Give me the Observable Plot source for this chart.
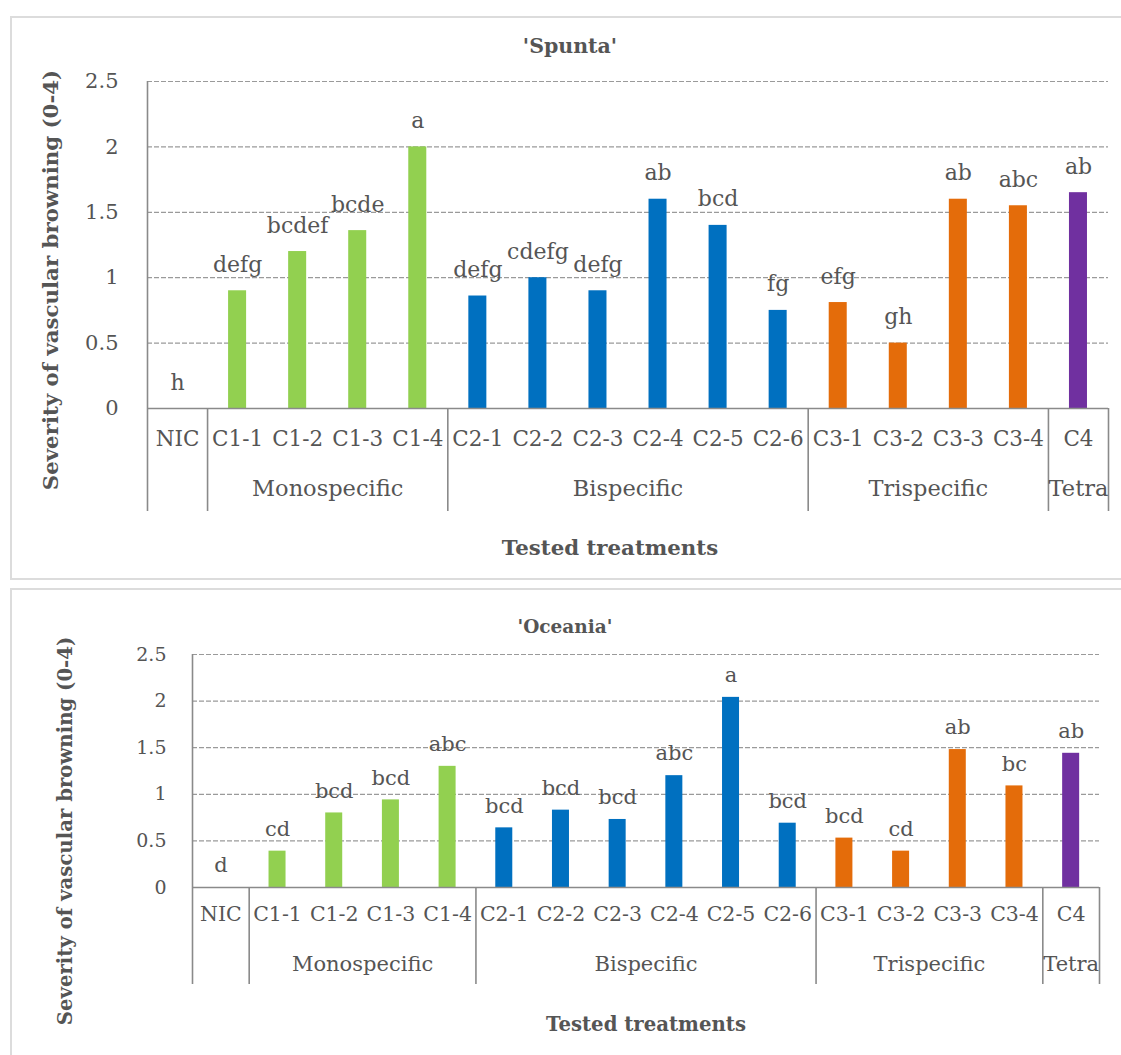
<!DOCTYPE html>
<html>
<head>
<meta charset="utf-8">
<script src="https://cdn.jsdelivr.net/npm/d3@7"></script>
<script src="https://cdn.jsdelivr.net/npm/@observablehq/plot@0.6"></script>
<style>
  html, body { margin: 0; padding: 0; background: #fff; overflow: hidden; width: 1121px; height: 1055px; }
  .frame { position: absolute; box-sizing: border-box; border: 2px solid #dcdcdc; background: #fff; }
  .t { position: absolute; transform: translate(-50%, -50%); white-space: nowrap; color: #555555;
       font-family: "DejaVu Serif", serif; font-weight: bold; line-height: 1; }
  .yt { transform: translate(-50%, -50%) rotate(-90deg); }
  .chart { position: absolute; }
</style>
</head>
<body>
<div class="frame" style="left:10px; top:16px; width:1140px; height:564px;"></div>
<div class="frame" style="left:10px; top:588px; width:1140px; height:520px;"></div>
<div id="c1" class="chart" style="left:10px; top:17px;"></div>
<div id="c2" class="chart" style="left:10px; top:589px;"></div>
<div class="t" style="left:570px; top:46px; font-size:20.5px;">'Spunta'</div>
<div class="t yt" style="left:51px; top:280px; font-size:21.3px;">Severity of vascular browning (0-4)</div>
<div class="t" style="left:610px; top:548px; font-size:21.3px;">Tested treatments</div>
<div class="t" style="left:565px; top:627px; font-size:18.5px;">'Oceania'</div>
<div class="t yt" style="left:66px; top:831px; font-size:19.7px;">Severity of vascular browning (0-4)</div>
<div class="t" style="left:646px; top:1025px; font-size:19.7px;">Tested treatments</div>
<script>
const categories = ["NIC","C1-1","C1-2","C1-3","C1-4","C2-1","C2-2","C2-3","C2-4","C2-5","C2-6","C3-1","C3-2","C3-3","C3-4","C4"];
const groupNames = ["", "Monospecific", "Bispecific", "Trispecific", "Tetra"];
const groupSizes = [1, 4, 6, 4, 1];
const groupColors = ["#92D050", "#92D050", "#0070C0", "#E46C0A", "#7030A0"];
const yTicks = [0, 0.5, 1, 1.5, 2, 2.5];

const spuntaValues = [0, 0.9, 1.2, 1.36, 2.0, 0.86, 1.0, 0.9, 1.6, 1.4, 0.75, 0.81, 0.5, 1.6, 1.55, 1.65];
const spuntaLetters = ["h","defg","bcdef","bcde","a","defg","cdefg","defg","ab","bcd","fg","efg","gh","ab","abc","ab"];

const oceaniaValues = [0, 0.39, 0.8, 0.94, 1.3, 0.64, 0.83, 0.73, 1.2, 2.04, 0.69, 0.53, 0.39, 1.48, 1.09, 1.44];
const oceaniaLetters = ["d","cd","bcd","bcd","abc","bcd","bcd","bcd","abc","a","bcd","bcd","cd","ab","bc","ab"];

// derived group info
const groups = [];
const groupIndex = [];
{
  let start = 0;
  groupSizes.forEach((n, g) => {
    groups.push({name: groupNames[g], start, end: start + n, mid: start + n / 2});
    for (let k = 0; k < n; k++) groupIndex.push(g);
    start += n;
  });
}
const innerBounds = groups.slice(1).map(g => g.start).concat([categories.length]);

function panel(values, letters, o) {
  const data = categories.map((c, i) => ({i, c, v: values[i], l: letters[i], g: groupIndex[i]}));
  const axisColor = "#8a8a8a";
  const txt = "#555555";
  return Plot.plot({
    width: o.width, height: o.height,
    marginLeft: o.ml, marginRight: o.mr, marginTop: o.mt, marginBottom: o.mb,
    x: {domain: [0, categories.length], axis: null},
    y: {domain: [0, 2.5], label: null},
    style: {background: "none", color: txt, fontFamily: "DejaVu Serif, serif", maxWidth: "none", overflow: "visible"},
    marks: [
      Plot.ruleY(yTicks.slice(1), {stroke: "#9a9a9a", strokeWidth: 1.2, strokeDasharray: "5,2"}),
      Plot.rectY(data, {x1: d => d.i + 0.35, x2: d => d.i + 0.65, y: "v", fill: d => groupColors[d.g]}),
      Plot.ruleY([0], {stroke: axisColor, strokeWidth: 1.6}),
      Plot.ruleX([0], {y1: 2.5, y2: 0, insetBottom: -o.sep, stroke: axisColor, strokeWidth: 1.6}),
      Plot.ruleX(innerBounds, {y1: 0, y2: 0, insetBottom: -o.sep, stroke: axisColor, strokeWidth: 1.6}),
      Plot.axisY(yTicks, {tickSize: 0, tickPadding: o.tickPad, fontSize: o.yfs, tickFormat: d => String(d), label: null}),
      Plot.text(data, {x: d => d.i + 0.5, y: "v", text: "l", dy: -o.letterDy, fontSize: o.fs, fill: txt}),
      Plot.text(data, {x: d => d.i + 0.5, frameAnchor: "bottom", text: "c", dy: o.catDy, fontSize: o.cfs, fill: txt}),
      Plot.text(groups.filter(g => g.name), {x: "mid", frameAnchor: "bottom", text: "name", dy: o.grpDy, fontSize: o.gfs, fill: txt})
    ]
  });
}

document.getElementById("c1").appendChild(panel(spuntaValues, spuntaLetters, {
  width: 1111, height: 562, ml: 137, mr: 13, mt: 64, mb: 171,
  sep: 103, tickPad: 29, yfs: 21, fs: 22, cfs: 21.5, gfs: 22.5, letterDy: 26, catDy: 37, grpDy: 87
}));
document.getElementById("c2").appendChild(panel(oceaniaValues, oceaniaLetters, {
  width: 1111, height: 466, ml: 182, mr: 22, mt: 65, mb: 168,
  sep: 97, tickPad: 26, yfs: 19, fs: 21, cfs: 20.5, gfs: 21, letterDy: 22, catDy: 33, grpDy: 83
}));
</script>
</body>
</html>
